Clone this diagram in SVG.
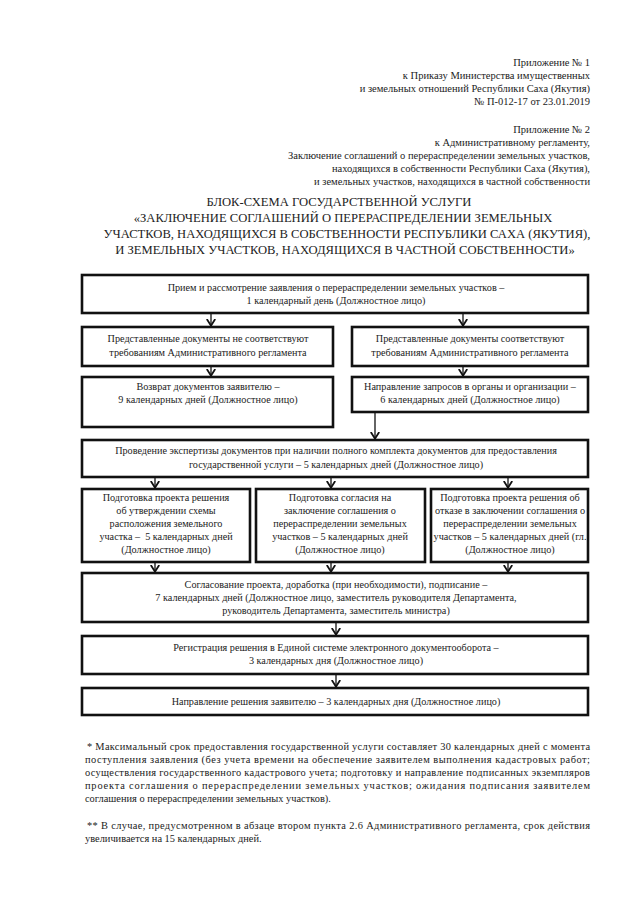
<svg xmlns="http://www.w3.org/2000/svg" width="640" height="905" viewBox="0 0 640 905">
<style>
text{font-family:"Liberation Serif","Times New Roman",serif;fill:#222;}
.h{font-size:10.5px;text-anchor:end;}
.ti{font-size:12.6px;text-anchor:middle;}
.t{font-size:10.2px;text-anchor:middle;}
.f{font-size:10.4px;}
.b{fill:#fff;stroke:#111;stroke-width:2.6;}
.c{stroke:#111;stroke-width:1.3;fill:none;}
</style>
<defs>
<marker id="ar" viewBox="0 0 8 10" refX="7.5" refY="5" markerWidth="8" markerHeight="10" markerUnits="userSpaceOnUse" orient="auto">
<path d="M0.5,0.8 L7.2,5 L0.5,9.2" fill="none" stroke="#111" stroke-width="1.8"/>
</marker>
</defs>
<rect width="640" height="905" fill="#fff"/>

<g id="header">
<text class="h" x="590" y="66">Приложение № 1</text>
<text class="h" x="590" y="79">к Приказу Министерства имущественных</text>
<text class="h" x="590" y="92">и земельных отношений Республики Саха (Якутия)</text>
<text class="h" x="590" y="105">№ П-012-17 от 23.01.2019</text>
<text class="h" x="590" y="133">Приложение № 2</text>
<text class="h" x="590" y="146">к Административному регламенту,</text>
<text class="h" x="590" y="159">Заключение соглашений о перераспределении земельных участков,</text>
<text class="h" x="590" y="172">находящихся в собственности Республики Саха (Якутия),</text>
<text class="h" x="590" y="185">и земельных участков, находящихся в частной собственности</text>
</g>

<g id="title">
<text class="ti" x="339" y="206">БЛОК-СХЕМА ГОСУДАРСТВЕННОЙ УСЛУГИ</text>
<text class="ti" x="343" y="222">«ЗАКЛЮЧЕНИЕ СОГЛАШЕНИЙ О ПЕРЕРАСПРЕДЕЛЕНИИ ЗЕМЕЛЬНЫХ</text>
<text class="ti" x="347" y="238">УЧАСТКОВ, НАХОДЯЩИХСЯ В СОБСТВЕННОСТИ РЕСПУБЛИКИ САХА (ЯКУТИЯ),</text>
<text class="ti" x="345" y="254">И ЗЕМЕЛЬНЫХ УЧАСТКОВ, НАХОДЯЩИХСЯ В ЧАСТНОЙ СОБСТВЕННОСТИ»</text>
</g>

<g id="connectors">
<line class="c" x1="211" y1="314" x2="211" y2="326" marker-end="url(#ar)"/>
<line class="c" x1="463" y1="314" x2="463" y2="326" marker-end="url(#ar)"/>
<line class="c" x1="211" y1="367" x2="211" y2="376" marker-end="url(#ar)"/>
<line class="c" x1="463" y1="367" x2="463" y2="376" marker-end="url(#ar)"/>
<line class="c" x1="375" y1="412" x2="375" y2="439" marker-end="url(#ar)"/>
<line class="c" x1="155" y1="478" x2="155" y2="488" marker-end="url(#ar)"/>
<line class="c" x1="331" y1="478" x2="331" y2="488" marker-end="url(#ar)"/>
<line class="c" x1="508" y1="478" x2="508" y2="488" marker-end="url(#ar)"/>
<line class="c" x1="155" y1="563" x2="155" y2="572" marker-end="url(#ar)"/>
<line class="c" x1="331" y1="563" x2="331" y2="572" marker-end="url(#ar)"/>
<line class="c" x1="508" y1="563" x2="508" y2="572" marker-end="url(#ar)"/>
<line class="c" x1="336" y1="623" x2="336" y2="635" marker-end="url(#ar)"/>
<line class="c" x1="336" y1="675" x2="336" y2="687" marker-end="url(#ar)"/>
</g>

<g id="n1">
<rect class="b" x="82" y="275" width="506" height="38"/>
<text class="t" x="336" y="291">Прием и рассмотрение заявления о перераспределении земельных участков –</text>
<text class="t" x="336" y="304">1 календарный день (Должностное лицо)</text>
</g>
<g id="n2">
<rect class="b" x="82" y="327" width="251" height="39"/>
<text class="t" x="208" y="342">Представленные документы не соответствуют</text>
<text class="t" x="208" y="356">требованиям Административного регламента</text>
</g>
<g id="n3">
<rect class="b" x="352" y="327" width="236" height="39"/>
<text class="t" x="470" y="342">Представленные документы соответствуют</text>
<text class="t" x="470" y="356">требованиям Административного регламента</text>
</g>
<g id="n4">
<rect class="b" x="82" y="377" width="251" height="50"/>
<text class="t" x="208" y="390">Возврат документов заявителю –</text>
<text class="t" x="208" y="403">9 календарных дней (Должностное лицо)</text>
</g>
<g id="n5">
<rect class="b" x="352" y="377" width="236" height="35"/>
<text class="t" x="470" y="390">Направление запросов в органы и организации –</text>
<text class="t" x="470" y="403">6 календарных дней (Должностное лицо)</text>
</g>
<g id="n6">
<rect class="b" x="82" y="440" width="506" height="37"/>
<text class="t" x="336" y="454">Проведение экспертизы документов при наличии полного комплекта документов для предоставления</text>
<text class="t" x="336" y="468">государственной услуги – 5 календарных дней (Должностное лицо)</text>
</g>
<g id="n7">
<rect class="b" x="82" y="489" width="168" height="73"/>
<text class="t" x="166" y="501">Подготовка проекта решения</text>
<text class="t" x="166" y="514">об утверждении схемы</text>
<text class="t" x="166" y="527">расположения земельного</text>
<text class="t" x="166" y="540" xml:space="preserve">участка –  5 календарных дней</text>
<text class="t" x="166" y="553">(Должностное лицо)</text>
</g>
<g id="n8">
<rect class="b" x="256" y="489" width="169" height="73"/>
<text class="t" x="340" y="501">Подготовка согласия на</text>
<text class="t" x="340" y="514">заключение соглашения о</text>
<text class="t" x="340" y="527">перераспределении земельных</text>
<text class="t" x="340" y="540">участков – 5 календарных дней</text>
<text class="t" x="340" y="553">(Должностное лицо)</text>
</g>
<g id="n9">
<rect class="b" x="431" y="489" width="157" height="73"/>
<text class="t" x="510" y="501">Подготовка проекта решения об</text>
<text class="t" x="510" y="514">отказе в заключении соглашения о</text>
<text class="t" x="510" y="527">перераспределении земельных</text>
<text class="t" x="510" y="540">участков – 5 календарных дней (гл.</text>
<text class="t" x="510" y="553">(Должностное лицо)</text>
</g>
<g id="n10">
<rect class="b" x="82" y="573" width="506" height="49"/>
<text class="t" x="336" y="588">Согласование проекта, доработка (при необходимости), подписание –</text>
<text class="t" x="336" y="601">7 календарных дней (Должностное лицо, заместитель руководителя Департамента,</text>
<text class="t" x="336" y="614">руководитель Департамента, заместитель министра)</text>
</g>
<g id="n11">
<rect class="b" x="82" y="636" width="506" height="38"/>
<text class="t" x="336" y="651">Регистрация решения в Единой системе электронного документооборота –</text>
<text class="t" x="336" y="664">3 календарных дня (Должностное лицо)</text>
</g>
<g id="n12">
<rect class="b" x="82" y="688" width="506" height="27"/>
<text class="t" x="336" y="705">Направление решения заявителю – 3 календарных дня (Должностное лицо)</text>
</g>

<g id="footnotes">
<text class="f" x="87" y="750" textLength="503" lengthAdjust="spacing">* Максимальный срок предоставления государственной услуги составляет 30 календарных дней с момента</text>
<text class="f" x="85" y="763" textLength="505" lengthAdjust="spacing">поступления заявления (без учета времени на обеспечение заявителем выполнения кадастровых работ;</text>
<text class="f" x="85" y="776" textLength="505" lengthAdjust="spacing">осуществления государственного кадастрового учета; подготовку и направление подписанных экземпляров</text>
<text class="f" x="85" y="789" textLength="505" lengthAdjust="spacing">проекта соглашения о перераспределении земельных участков; ожидания подписания заявителем</text>
<text class="f" x="85" y="802">соглашения о перераспределении земельных участков).</text>
<text class="f" x="87" y="829" textLength="503" lengthAdjust="spacing">** В случае, предусмотренном в абзаце втором пункта 2.6 Административного регламента, срок действия</text>
<text class="f" x="85" y="842">увеличивается на 15 календарных дней.</text>
</g>
</svg>
